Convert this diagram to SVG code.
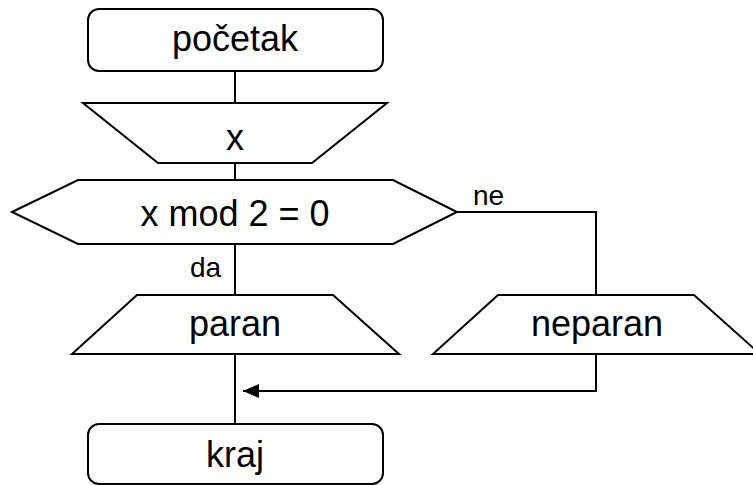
<svg xmlns="http://www.w3.org/2000/svg" width="753" height="485" viewBox="0 0 753 485">
  <style>
    .shape { fill: #ffffff; stroke: #000000; stroke-width: 2; stroke-linejoin: miter; }
    .edge { fill: none; stroke: #000000; stroke-width: 2; }
    .label { font-family: "Liberation Sans", Arial, sans-serif; font-size: 36px; fill: #000000; text-anchor: middle; }
    .edge-label { font-family: "Liberation Sans", Arial, sans-serif; font-size: 28px; fill: #000000; }
  </style>
  <defs>
    <marker id="arrow" viewBox="0 0 16 14" refX="16" refY="7" markerWidth="16" markerHeight="14" markerUnits="userSpaceOnUse" orient="auto">
      <path d="M0,0 L16,7 L0,14 Z" fill="#000000"/>
    </marker>
  </defs>
  <rect width="753" height="485" fill="#ffffff"/>

  <!-- connectors -->
  <g id="connectors">
    <line class="edge" x1="235" y1="71" x2="235" y2="103"/>
    <line class="edge" x1="235" y1="163" x2="235" y2="180"/>
    <line class="edge" x1="235" y1="244" x2="235" y2="295"/>
    <polyline class="edge" points="457,212 596,212 596,295"/>
    <line class="edge" x1="235" y1="354" x2="235" y2="424"/>
    <polyline class="edge" points="596,354 596,391 243,391" marker-end="url(#arrow)"/>
    <text class="edge-label" x="473" y="205">ne</text>
    <text class="edge-label" x="190" y="277">da</text>
  </g>

  <!-- start terminal -->
  <g id="start">
    <rect class="shape" x="88" y="9" width="295" height="62" rx="11" ry="11"/>
    <text class="label" x="235" y="51">početak</text>
  </g>

  <!-- input -->
  <g id="input-x">
    <polygon class="shape" points="83,103 387,103 312,163 158,163"/>
    <text class="label" x="235" y="150">x</text>
  </g>

  <!-- decision -->
  <g id="decision">
    <polygon class="shape" points="12,212 78,180 393,180 457,212 393,244 78,244"/>
    <text class="label" x="235" y="226">x mod 2 = 0</text>
  </g>

  <!-- output: even -->
  <g id="out-even">
    <polygon class="shape" points="137,295 333,295 399,354 72,354"/>
    <text class="label" x="235" y="336">paran</text>
  </g>

  <!-- output: odd -->
  <g id="out-odd">
    <polygon class="shape" points="498,295 694,295 760,354 433,354"/>
    <text class="label" x="597" y="336">neparan</text>
  </g>

  <!-- end terminal -->
  <g id="end">
    <rect class="shape" x="88" y="424" width="295" height="60" rx="11" ry="11"/>
    <text class="label" x="235" y="467">kraj</text>
  </g>
</svg>
